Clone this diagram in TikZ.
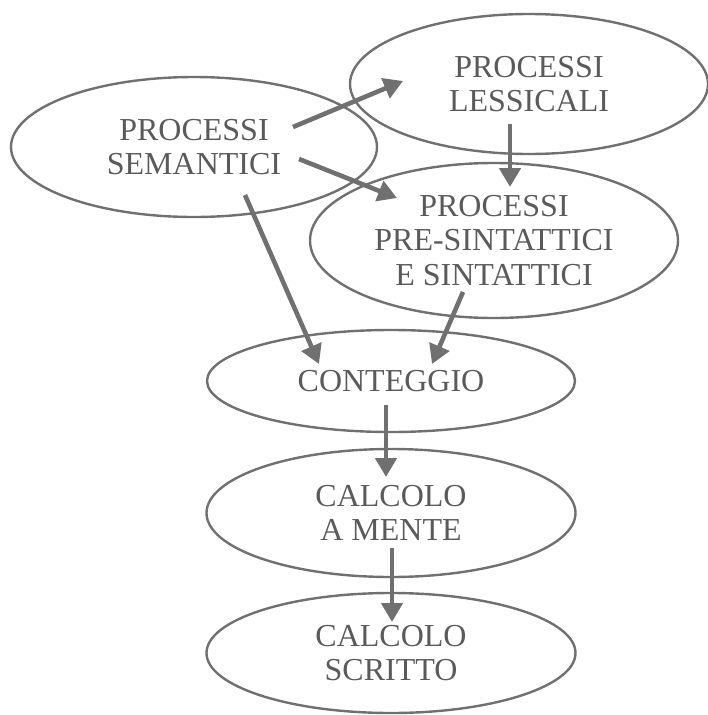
\documentclass[tikz,border=0pt]{standalone}
\usepackage{fontspec}
\setmainfont{Liberation Serif}
\usetikzlibrary{shapes.geometric,arrows.meta}
\definecolor{edgegray}{RGB}{112,112,112}
\definecolor{textgray}{RGB}{90,90,90}
\begin{document}
\begin{tikzpicture}[x=1pt,y=-1pt,
  proc/.style={ellipse, draw=edgegray, line width=2.4pt, inner sep=0pt,
    align=center, text=textgray, font=\fontsize{32}{34.5}\selectfont},
  flow/.style={draw=edgegray, line width=4.6pt,
    -{Triangle[width=21pt,length=19pt]}}
]
\useasboundingbox (0,0) rectangle (708,715);

\node[proc, minimum width=366pt, minimum height=140pt] (sem) at (194,147) {PROCESSI\\SEMANTICI};
\node[proc, minimum width=358pt, minimum height=140pt] (lex) at (529,84) {PROCESSI\\LESSICALI};
\node[proc, minimum width=368pt, minimum height=155pt] (pre) at (494,240.5) {PROCESSI\\PRE-SINTATTICI\\E SINTATTICI};
\node[proc, minimum width=368pt, minimum height=102pt] (cont) at (391,381) {CONTEGGIO};
\node[proc, minimum width=369pt, minimum height=128pt] (calc) at (391,513) {CALCOLO\\A MENTE};
\node[proc, minimum width=369pt, minimum height=120pt] (scr) at (391,653) {CALCOLO\\SCRITTO};

\coordinate (semA) at (293,127);
\coordinate (lexIn) at (403,81);
\coordinate (semB) at (299,159);
\coordinate (preIn) at (397,198);
\coordinate (semC) at (245,195);
\coordinate (contInA) at (319,364);
\coordinate (lexOut) at (510,124);
\coordinate (preTop) at (510,187);
\coordinate (preOut) at (463,292);
\coordinate (contInB) at (432,364);
\coordinate (contOut) at (386,405);
\coordinate (calcIn) at (386,477);
\coordinate (calcOut) at (392,548);
\coordinate (scrIn) at (392,622);

\draw[flow] (semA) -- (lexIn);
\draw[flow] (semB) -- (preIn);
\draw[flow] (semC) -- (contInA);
\draw[flow] (lexOut) -- (preTop);
\draw[flow] (preOut) -- (contInB);
\draw[flow] (contOut) -- (calcIn);
\draw[flow] (calcOut) -- (scrIn);
\end{tikzpicture}
\end{document}
